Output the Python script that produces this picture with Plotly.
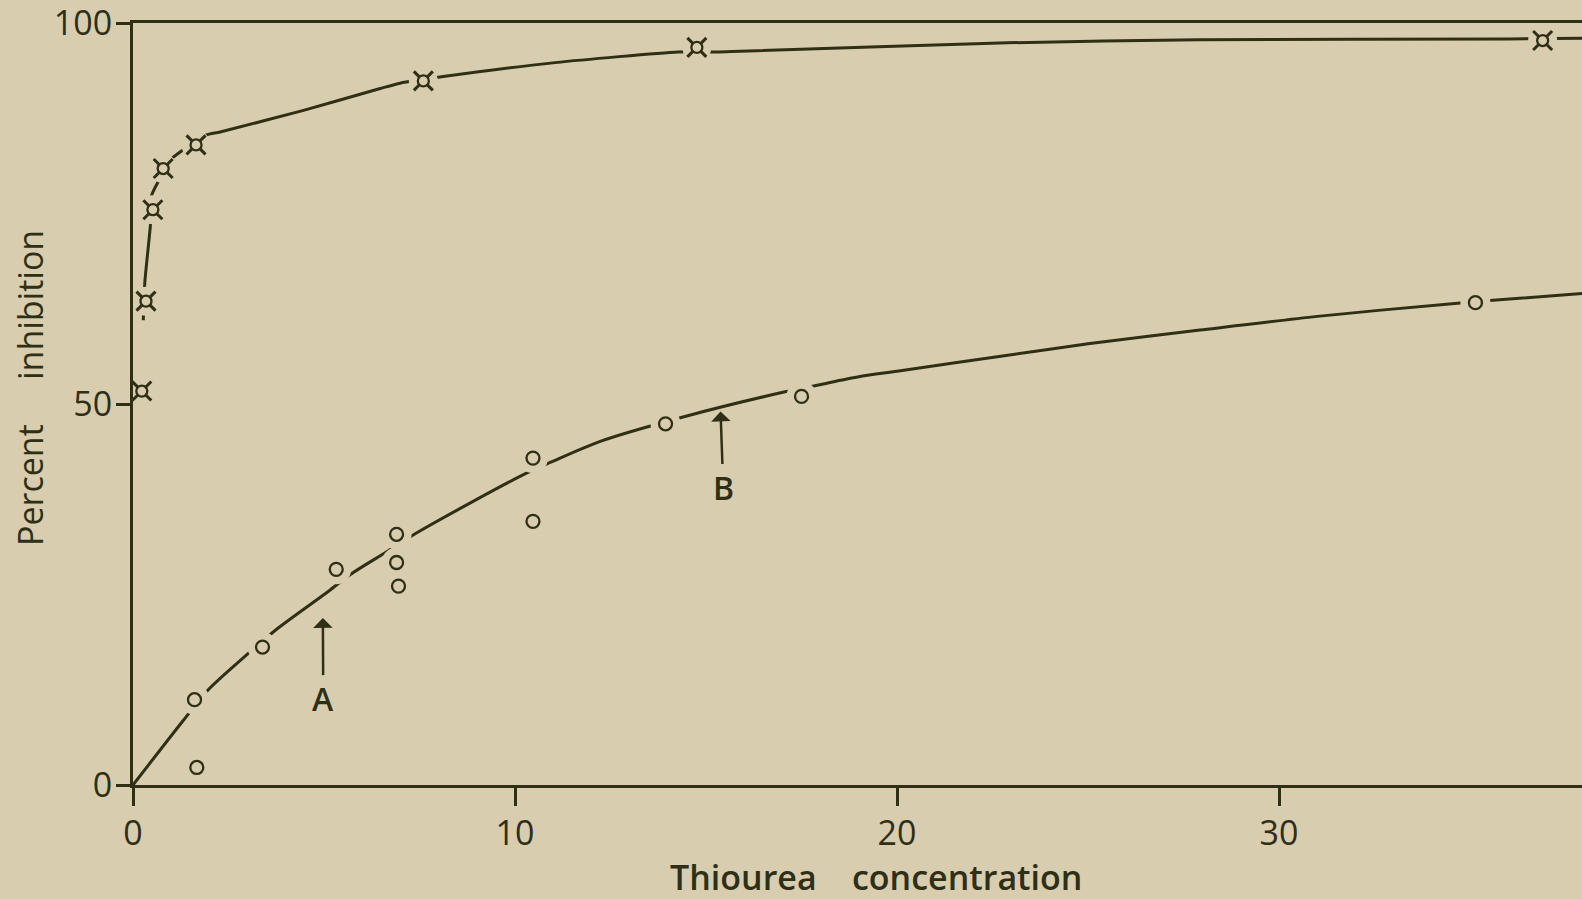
import plotly.graph_objects as go

# ---- data ----
upper_x = [0.23, 0.34, 0.52, 0.79, 1.65, 7.6, 14.76, 36.9]
upper_y = [51.7, 63.5, 75.5, 80.9, 84.0, 92.4, 96.8, 97.7]

lower_x = [1.61, 1.67, 3.39, 5.32, 6.9, 6.9, 6.95, 10.47, 10.47, 13.94, 17.5, 35.14]
lower_y = [11.2, 2.3, 18.1, 28.3, 32.9, 29.2, 26.1, 42.9, 34.6, 47.4, 51.0, 63.3]

# hand-drawn curves
upper_curve_x = [0.27, 0.31, 0.46, 0.49, 0.75, 0.97, 1.27, 1.91, 2.28, 4.44, 6.47, 6.99,
                 8.17, 11.05, 14.27, 15.28, 15.9, 22.9, 27.9, 36.0, 37.93]
upper_curve_y = [61.0, 66.0, 73.7, 77.4, 80.0, 82.0, 83.2, 85.3, 85.7, 88.5, 91.4, 92.1,
                 93.0, 94.8, 96.2, 96.2, 96.3, 97.4, 97.8, 97.9, 98.0]

lower_curve_x = [0, 1.32, 1.97, 2.98, 3.8, 5.11, 5.68, 6.64, 7.43, 10.13, 11.0, 12.23,
                 14.4, 17.07, 17.94, 19.03, 20.0, 22.9, 25.0, 27.93, 31.0, 34.6, 35.6, 37.93]
lower_curve_y = [0, 8.5, 12.5, 17.1, 20.6, 25.4, 27.6, 30.6, 33.1, 40.5, 42.5, 45.1,
                 48.3, 51.6, 52.5, 53.6, 54.3, 56.4, 57.9, 59.7, 61.5, 63.2, 63.6, 64.5]

x_ticks = [0, 10, 20, 30]
x_tick_text = ["0", "10", "20", "30"]
y_ticks = [0, 50, 100]
y_tick_text = ["0", "50", "100"]

x_title = "Thiourea\u00a0\u00a0\u00a0\u00a0concentration"
y_title = "Percent\u00a0\u00a0\u00a0\u00a0\u00a0inhibition"

labels = ["A", "B"]
label_x = [4.98, 15.45]
label_y = [11.4, 39.1]
arrow_tip_x = [4.97, 15.38]
arrow_tip_y = [21.9, 49.0]

# ---- style ----
BG = "#d8cdaf"
INK = "#2f2f16"
FONT = "Open Sans"

fig = go.Figure()

# curves
fig.add_trace(go.Scatter(x=upper_curve_x, y=upper_curve_y, mode="lines",
                         line=dict(color=INK, width=3, shape="spline", smoothing=0.6),
                         hoverinfo="skip"))
fig.add_trace(go.Scatter(x=lower_curve_x, y=lower_curve_y, mode="lines",
                         line=dict(color=INK, width=3, shape="spline", smoothing=0.8),
                         hoverinfo="skip"))

# gaps around the symbols
fig.add_trace(go.Scatter(x=upper_x, y=upper_y, mode="markers",
                         marker=dict(symbol="circle", size=29, color=BG, line=dict(width=0)),
                         hoverinfo="skip"))
fig.add_trace(go.Scatter(x=lower_x, y=lower_y, mode="markers",
                         marker=dict(symbol="circle", size=30, color=BG, line=dict(width=0)),
                         hoverinfo="skip"))

# upper symbols: circle with four spikes
fig.add_trace(go.Scatter(x=upper_x, y=upper_y, mode="markers",
                         marker=dict(symbol="x-thin-open", size=19, color=INK,
                                     line=dict(width=3, color=INK))))
fig.add_trace(go.Scatter(x=upper_x, y=upper_y, mode="markers",
                         marker=dict(symbol="circle", size=11, color=BG,
                                     line=dict(width=2.3, color=INK))))

# lower symbols: open circles
fig.add_trace(go.Scatter(x=lower_x, y=lower_y, mode="markers",
                         marker=dict(symbol="circle-open", size=13, color=INK,
                                     line=dict(width=2.3, color=INK))))

annotations = []
for t, lx, ly, tx, ty in zip(labels, label_x, label_y, arrow_tip_x, arrow_tip_y):
    annotations.append(dict(
        x=tx, y=ty, xref="x", yref="y",
        ax=lx, ay=ly, axref="x", ayref="y",
        text=t, showarrow=True, arrowhead=1, arrowsize=1.3, arrowwidth=2.5,
        arrowcolor=INK, standoff=0, startstandoff=0,
        font=dict(family=FONT, size=32, color=INK, weight=600),
        xanchor="center", yanchor="middle"))

plot_w = 1582 - 133
plot_h = 785 - 23
annotations.append(dict(
    text=x_title, xref="paper", yref="paper",
    x=(876 - 133) / plot_w, y=(785 - 902) / plot_h,
    xanchor="center", yanchor="bottom", showarrow=False,
    font=dict(family=FONT, size=34, color=INK, weight=600)))
annotations.append(dict(
    text=y_title, xref="paper", yref="paper",
    x=(30 - 133) / plot_w, y=(785 - 388) / plot_h,
    xanchor="center", yanchor="middle", showarrow=False, textangle=-90,
    font=dict(family=FONT, size=34, color=INK)))

fig.update_layout(
    width=1582, height=899,
    margin=dict(l=133, r=0, t=23, b=114),
    paper_bgcolor=BG, plot_bgcolor=BG,
    showlegend=False,
    annotations=annotations,
    xaxis=dict(range=[0, 37.93], tickvals=x_ticks, ticktext=x_tick_text,
               ticks="outside", ticklen=18, tickwidth=3, tickcolor=INK,
               showline=True, linewidth=3, linecolor=INK, mirror=True,
               showgrid=False, zeroline=False, ticklabelstandoff=-2,
               tickfont=dict(family=FONT, size=34, color=INK)),
    yaxis=dict(range=[0, 100], tickvals=y_ticks, ticktext=y_tick_text,
               ticks="outside", ticklen=14, tickwidth=3, tickcolor=INK,
               showline=True, linewidth=3, linecolor=INK,
               showgrid=False, zeroline=False, ticklabelstandoff=-3,
               ticklabeloverflow="allow",
               tickfont=dict(family=FONT, size=34, color=INK)),
)

fig.write_html("out.html")
